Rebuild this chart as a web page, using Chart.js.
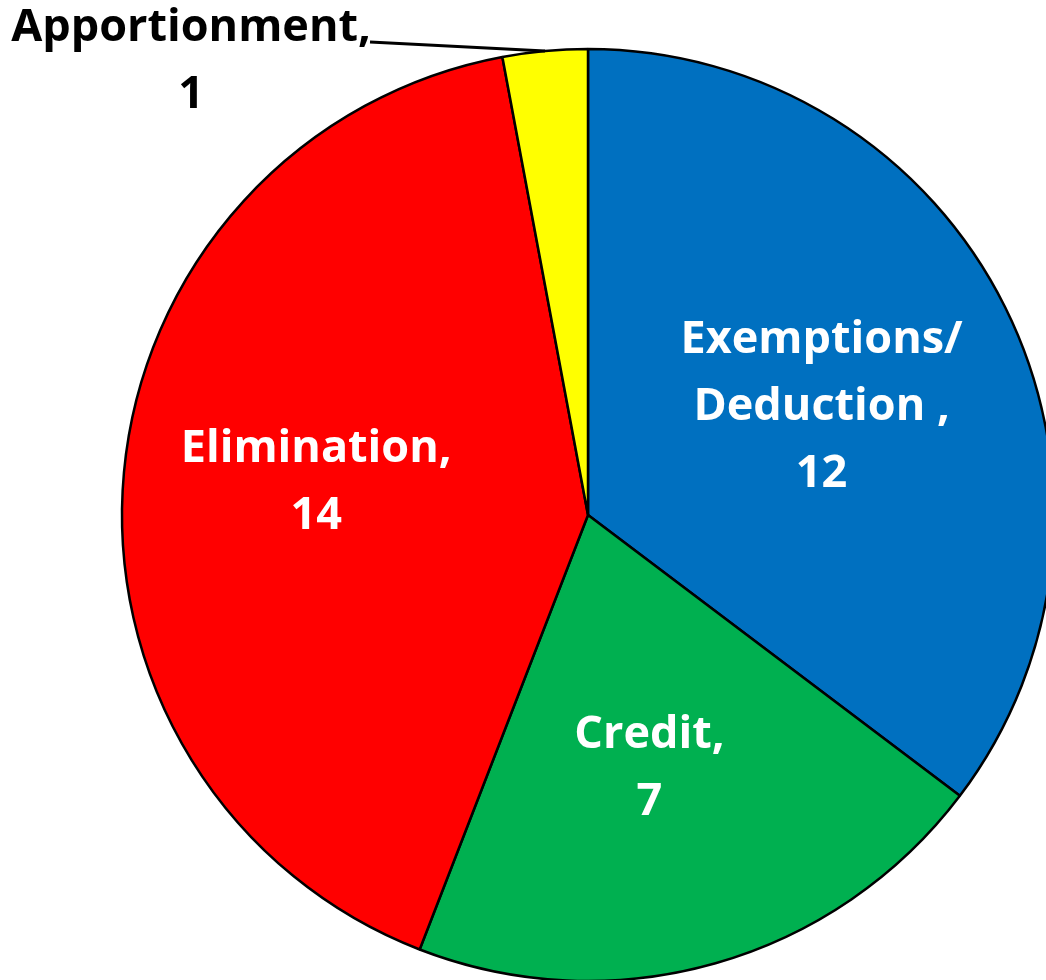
<!DOCTYPE html>
<html>
<head>
<meta charset="utf-8">
<script src="https://cdn.jsdelivr.net/npm/chart.js@4/dist/chart.umd.min.js"></script>
<style>
  html, body { margin: 0; padding: 0; background: #fff; overflow: hidden; }
  #wrap { width: 1046px; height: 980px; position: relative; }
</style>
</head>
<body>
<div id="wrap"><canvas id="pie"></canvas></div>
<script>
// Categorias e valores
const categorias = ['Exemptions/\nDeduction ,', 'Credit,', 'Elimination,', 'Apportionment,'];
const valores = [12, 7, 14, 1];
const cores = ['#0070C0', '#00B050', '#FF0000', '#FFFF00'];
const corTexto = ['#fff', '#fff', '#fff', '#000'];
// pequenos ajustes manuais dos rótulos (px)
const ajustes = [[0, 9], [-10, 3], [-12, -8], [0, 0]];

const fonte = 'bold 45px "Open Sans"';
const alturaLinha = 67;

// Rótulos dentro das fatias (e o do amarelo fora, com linha guia)
const rotulos = {
  id: 'rotulos',
  afterDatasetsDraw(chart) {
    const ctx = chart.ctx;
    const meta = chart.getDatasetMeta(0);
    ctx.save();
    ctx.font = fonte;
    ctx.textAlign = 'center';
    ctx.textBaseline = 'middle';
    meta.data.forEach((arc, i) => {
      const p = arc.getProps(['x', 'y', 'startAngle', 'endAngle', 'outerRadius'], true);
      const meio = (p.startAngle + p.endAngle) / 2;
      const linhas = categorias[i].split('\n').concat([String(valores[i])]);
      let cx, cy;
      if (i === 3) {
        // fatia pequena: texto fora, ligado por uma linha
        const ax = p.x + Math.cos(meio) * p.outerRadius;
        const ay = p.y + Math.sin(meio) * p.outerRadius;
        cx = 191;
        cy = 62;
        ctx.strokeStyle = '#000';
        ctx.lineWidth = 3;
        ctx.beginPath();
        ctx.moveTo(ax, ay);
        ctx.lineTo(370, 42);
        ctx.stroke();
      } else {
        const r = p.outerRadius * 0.56;
        cx = p.x + Math.cos(meio) * r + ajustes[i][0];
        cy = p.y + Math.sin(meio) * r + ajustes[i][1];
      }
      ctx.fillStyle = corTexto[i];
      const topo = cy - (linhas.length - 1) * alturaLinha / 2;
      linhas.forEach((t, k) => ctx.fillText(t, cx, topo + k * alturaLinha));
    });
    ctx.restore();
  }
};

new Chart(document.getElementById('pie'), {
  type: 'pie',
  data: {
    labels: categorias,
    datasets: [{
      data: valores,
      backgroundColor: cores,
      borderColor: '#000',
      borderWidth: 2.5,
      clip: false
    }]
  },
  options: {
    responsive: true,
    maintainAspectRatio: false,
    animation: false,
    radius: 466,
    layout: { padding: { left: 130, top: 50, right: 0, bottom: 0 } },
    plugins: {
      legend: { display: false },
      tooltip: { enabled: false }
    }
  },
  plugins: [rotulos]
});
</script>
</body>
</html>
